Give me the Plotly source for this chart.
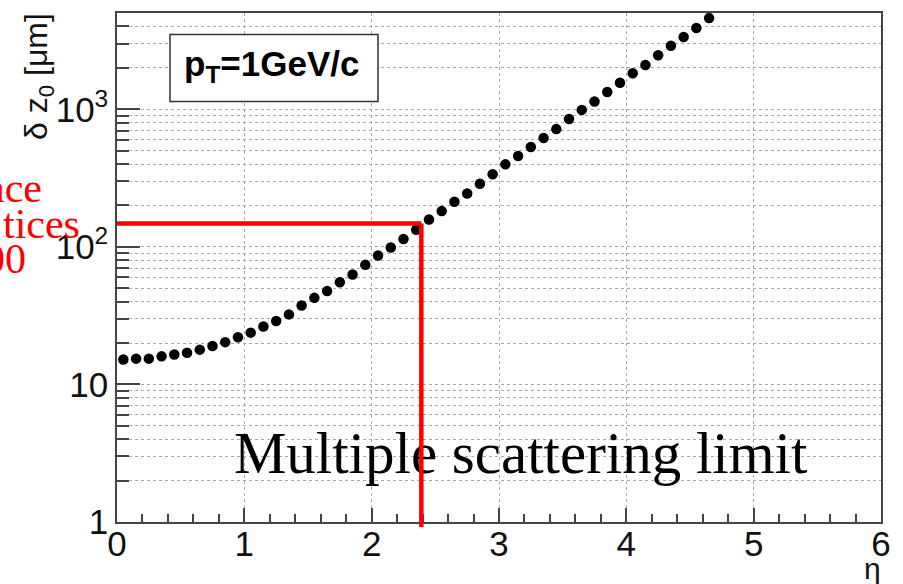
import plotly.graph_objects as go

# ---- data ----
eta = [0.05, 0.15, 0.25, 0.35, 0.45, 0.55, 0.65, 0.75, 0.85, 0.95,
       1.05, 1.15, 1.25, 1.35, 1.45, 1.55, 1.65, 1.75, 1.85, 1.95,
       2.05, 2.15, 2.25, 2.35, 2.45, 2.55, 2.65, 2.75, 2.85, 2.95,
       3.05, 3.15, 3.25, 3.35, 3.45, 3.55, 3.65, 3.75, 3.85, 3.95,
       4.05, 4.15, 4.25, 4.35, 4.45, 4.55, 4.65]
dz0 = [15.2, 15.4, 15.4, 16.0, 16.5, 17.0, 17.9, 19.0, 20.3, 22.0,
       23.8, 26.4, 28.9, 32.3, 37.5, 42.6, 47.7, 55.3, 63.0, 74.0,
       86.5, 99.0, 114, 133, 158, 182, 213, 244, 288, 337,
       398, 457, 532, 618, 718, 850, 990, 1140, 1335, 1560,
       1830, 2100, 2470, 2900, 3350, 3900, 4600]

limit_eta = 2.39
limit_dz = 148

x_ticks = [0, 1, 2, 3, 4, 5, 6]
x_ticktext = ["0", "1", "2", "3", "4", "5", "6"]
y_ticks = [1, 10, 100, 1000]
y_ticktext = ["1", "10", "10<sup>2</sup>", "10<sup>3</sup>"]
y_minor = [m * d for d in (1, 10, 100, 1000) for m in range(2, 10)]

W, H = 903, 584
L, R, T, B = 117, 22, 12.5, 62
pw, ph = W - L - R, H - T - B


def px(xp):
    return (xp - L) / pw


def py(yp):
    return (H - B - yp) / ph


AX = "#444444"
GRID = "#a8a8a8"
SANS = "Liberation Sans, Arial, sans-serif"
SERIF = "Liberation Serif, Times New Roman, serif"

fig = go.Figure()

fig.add_trace(go.Scatter(
    x=[3.17], y=[2.9], mode="text",
    text=["Multiple scattering limit"],
    textfont=dict(family=SERIF, size=59, color="black"),
    textposition="middle center", cliponaxis=False, showlegend=False,
    hoverinfo="skip"))

fig.add_trace(go.Scatter(
    x=eta, y=dz0, mode="markers",
    marker=dict(symbol="circle", size=10.5, color="black"),
    showlegend=False))

fig.update_layout(
    width=W, height=H,
    margin=dict(l=L, r=R, t=T, b=B),
    paper_bgcolor="white", plot_bgcolor="white",
    font=dict(family=SANS, color="black"),
)

fig.update_xaxes(
    range=[0, 6], tickvals=x_ticks, ticktext=x_ticktext,
    ticks="inside", ticklen=14, tickwidth=1.5, tickcolor=AX,
    showline=True, linecolor=AX, linewidth=1.5, mirror=True,
    showgrid=True, gridcolor=GRID, griddash="dot", gridwidth=1,
    tickfont=dict(family=SANS, size=35, color="#111"),
    ticklabelstandoff=-10,
    minor=dict(dtick=0.2, ticks="inside", ticklen=8, tickwidth=1.5,
               tickcolor=AX, showgrid=False),
    zeroline=False,
)

fig.update_yaxes(
    type="log", range=[0, 3.7], tickvals=y_ticks, ticktext=y_ticktext,
    ticks="inside", ticklen=23, tickwidth=1.5, tickcolor=AX,
    showline=True, linecolor=AX, linewidth=1.5, mirror=True,
    showgrid=True, gridcolor=GRID, griddash="dot", gridwidth=1,
    tickfont=dict(family=SANS, size=35, color="#111"),
    minor=dict(tickvals=y_minor, ticks="inside", ticklen=12, tickwidth=1.5,
               tickcolor=AX, showgrid=True, gridcolor=GRID, griddash="dot",
               gridwidth=1),
    zeroline=False,
)

# red limit lines
RED = dict(color="#ff0000", width=4.5)
fig.add_shape(type="line", xref="x", yref="y", x0=0, x1=limit_eta,
              y0=limit_dz, y1=limit_dz, line=RED, layer="above")
fig.add_shape(type="line", xref="x", yref="y", x0=limit_eta, x1=limit_eta,
              y0=1, y1=limit_dz, line=RED, layer="above")
fig.add_shape(type="line", xref="x", yref="paper", x0=limit_eta, x1=limit_eta,
              y0=py(527), y1=0, line=RED, layer="above")

# pT box
fig.add_shape(type="rect", xref="paper", yref="paper",
              x0=px(170), x1=px(378), y0=py(101), y1=py(34),
              line=dict(color="#333", width=1.5), fillcolor="white",
              layer="above")
fig.add_annotation(xref="paper", yref="paper", x=px(272), y=py(66),
                   text="<b>p<sub>T</sub>=1GeV/c</b>", showarrow=False,
                   font=dict(family=SANS, size=35, color="black"),
                   xanchor="center", yanchor="middle")

# y-axis title
fig.add_annotation(xref="paper", yref="paper", x=px(38), y=py(11),
                   text="δ z<sub>0</sub> [μm]", showarrow=False,
                   textangle=-90,
                   font=dict(family=SANS, size=32, color="#111"),
                   xanchor="center", yanchor="top")

# x-axis title
fig.add_annotation(xref="paper", yref="paper", x=px(872), y=py(569),
                   text="η", showarrow=False,
                   font=dict(family=SANS, size=30, color="#111"),
                   xanchor="center", yanchor="middle")

# red cropped side text
for txt, right, ymid in [("ance", 44, 188), ("tices", 82, 224), ("00", 28, 259)]:
    fig.add_annotation(xref="paper", yref="paper", x=px(right), y=py(ymid),
                       text=txt, showarrow=False,
                       font=dict(family=SERIF, size=42, color="#ff0000"),
                       xanchor="right", yanchor="middle")

fig.write_html("out.html")
